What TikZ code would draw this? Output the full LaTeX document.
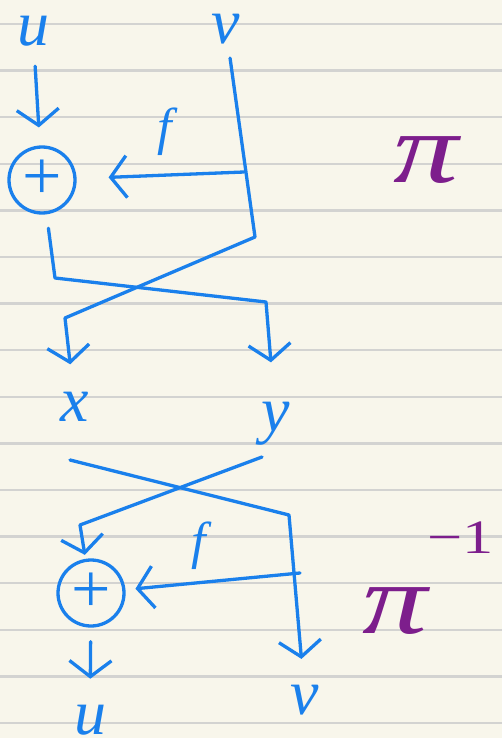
\documentclass[tikz,border=0pt]{standalone}
\usepackage{fontspec}
\setmainfont{Liberation Serif}
\usepackage{tikz}
\usetikzlibrary{arrows.meta}
\definecolor{penblue}{HTML}{1A80EC}
\definecolor{penpurple}{HTML}{7D1E8C}
\definecolor{paper}{HTML}{F8F6EB}
\definecolor{ruleline}{HTML}{D3D3D1}
\begin{document}
\begin{tikzpicture}[x=1pt, y=-1pt, >={Straight Barb[length=16pt,width=42pt]},
    pen/.style={draw=penblue, line width=3.3pt, line cap=round, line join=round},
    lbl/.style={text=penblue, inner sep=0pt, font=\itshape\fontsize{64}{64}\selectfont},
    flbl/.style={text=penblue, inner sep=0pt, font=\itshape\fontsize{52}{52}\selectfont},
    xorbox/.style={circle, draw=penblue, line width=3.3pt, minimum size=66pt, inner sep=0pt,
        text=penblue, font=\fontsize{70}{70}\selectfont},
    perm/.style={text=penpurple, inner sep=0pt, font=\itshape\fontsize{100}{100}\selectfont}]
% lined paper
\fill[paper] (0,0) rectangle (502,738);
\useasboundingbox (0,0) rectangle (502,738);
\foreach \k in {0,...,15}
  \draw[ruleline, line width=2.4pt] (0,24+46.6*\k) -- (502,24+46.6*\k);

% first half
\node[lbl]    (u1)   at (33,31)  {u};
\node[lbl]    (v1)   at (226,29) {v};
\node[xorbox] (xor1) at (42,180) {+};
\node[flbl]   (f1)   at (165,132) {f};
\node[perm, xscale=1.3] (pi1) at (426,160) {π};
\node[lbl]    (x1)   at (75,407) {x};
\node[lbl]    (y1)   at (276,424) {y};
\coordinate (vbend) at (255,237);
\coordinate (vturn) at (65,318);
\coordinate (abend) at (55,278);
\coordinate (bbend) at (266,302);
\coordinate (ftap1) at (244,172);
\draw[pen, ->, shorten <=20pt, shorten >=18pt] (u1) -- (xor1);
\draw[pen, ->, shorten <=14pt, shorten >=28pt] (v1) -- (vbend) -- (vturn) -- (x1);
\draw[pen, ->, shorten <=14pt, shorten >=40pt] (xor1) -- (abend) -- (bbend) -- (y1);
\draw[pen, ->, shorten >=32pt] (ftap1) -- (xor1);

% second half
\node[xorbox] (xor2) at (91,593) {+};
\node[flbl]   (f2)   at (199,546) {f};
\node[perm, xscale=1.3] (pi2) at (428,578) {π\raisebox{0.8em}{\fontsize{48}{48}\selectfont\upshape −1}};
\node[lbl]    (u2)   at (90,720) {u};
\node[lbl]    (v2)   at (305,700) {v};
\coordinate (xout)  at (70,460);
\coordinate (xbend) at (289,515);
\coordinate (yout)  at (262,457);
\coordinate (ybend) at (80,525);
\coordinate (ftap2) at (300,573);
\draw[pen, ->, shorten >=26pt] (xout) -- (xbend) -- (v2);
\draw[pen, ->, shorten >=4pt] (yout) -- (ybend) -- (xor2);
\draw[pen, ->, shorten >=10pt] (ftap2) -- (xor2);
\draw[pen, ->, shorten <=14pt, shorten >=26pt] (xor2) -- (u2);
\end{tikzpicture}
\end{document}
